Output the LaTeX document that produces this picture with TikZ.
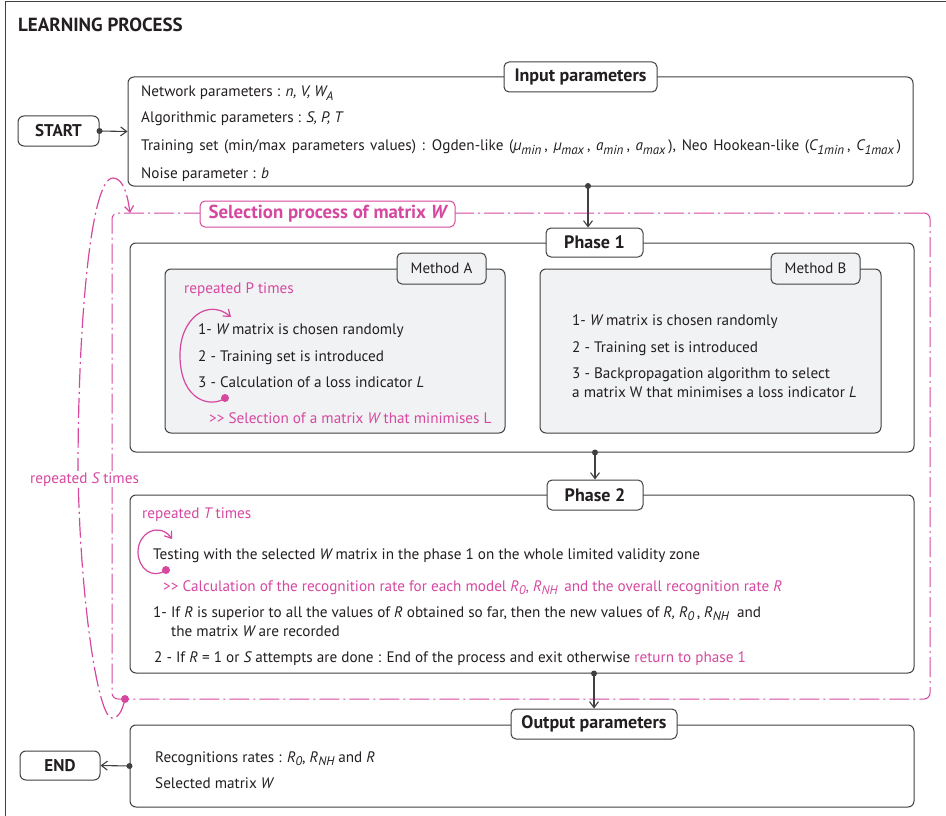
\documentclass[tikz,border=0pt]{standalone}
\usepackage{fontspec}
\setmainfont{PT Sans}
\usetikzlibrary{arrows.meta,calc}
\definecolor{pk}{RGB}{214,72,160}
\definecolor{tx}{RGB}{35,31,32}
\definecolor{ln}{RGB}{64,64,64}
\definecolor{gf}{RGB}{241,242,244}
\newcommand\lo[1]{\raisebox{-0.5ex}{\fontsize{12.5}{12.5}\selectfont\itshape #1}}
\newcommand\los[1]{\raisebox{-0.5ex}{\fontsize{13}{13}\selectfont\itshape #1}\hspace{3pt}}
\newcommand\ii[1]{{\itshape #1}}
\begin{document}
\begin{tikzpicture}[x=1pt,y=-1pt,
  box/.style={draw=ln,line width=1pt,rounded corners=6pt,fill=white,inner sep=0pt},
  gbox/.style={box,fill=gf},
  lab/.style={draw=ln,line width=1pt,rounded corners=5pt,fill=white,inner sep=0pt,text=tx,font=\fontsize{18}{20}\selectfont\bfseries},
  mlab/.style={lab,font=\fontsize{15}{18}\selectfont},
  txt/.style={anchor=base west,inner sep=0pt,text=tx,font=\fontsize{15.2}{18}\selectfont},
  ptxt/.style={txt,text=pk},
  conn/.style={draw=ln,line width=1.1pt,-{Straight Barb[length=6pt,width=9pt]}},
  ploop/.style={draw=pk,line width=1.2pt,-{Straight Barb[length=6pt,width=9pt]}},
  dashdot/.style={dash pattern=on 20pt off 4pt on 2pt off 4pt}
]
\useasboundingbox (0,0) rectangle (946,816);
% frame
\draw[ln,line width=1pt] (5,816) -- (5,1.5) -- (946,1.5);
\node[txt,font=\fontsize{19}{21}\selectfont\bfseries] (title) at (18,32) {LEARNING PROCESS};

% selection process box
\node[draw=pk,line width=1pt,dashdot,rounded corners=6pt,minimum width=818pt,minimum height=486pt,inner sep=0pt] (sel) at (521,456) {};

% input
\node[box,minimum width=81pt,minimum height=30pt,font=\fontsize{17}{20}\selectfont\bfseries,text=tx] (start) at (58.5,131) {START};
\node[box,minimum width=785pt,minimum height=109pt] (inp) at (520.5,131.5) {};
\node[lab,minimum width=153pt,minimum height=30pt] (inplab) at (580.5,77) {Input parameters};
\node[txt] (i1) at (141,96.5) {Network parameters : \ii{n, V, W}\lo{A}};
\node[txt] (i2) at (141,123) {Algorithmic parameters : \ii{S, P, T}};
\node[txt] (i3) at (141,150.5) {\spaceskip=5.6pt plus 1pt Training set (min/max parameters values) : Ogden-like (\ii{µ}\los{min}, \ii{µ}\los{max}, \ii{a}\los{min}, \ii{a}\los{max}), Neo Hookean-like (\ii{C}\los{1min}, \ii{C}\los{1max})};
\node[txt] (i4) at (141,178) {Noise parameter : \ii{b}};

\node[draw=pk,line width=1pt,rounded corners=5pt,fill=white,minimum width=255pt,minimum height=26pt,inner sep=0pt,text=pk,font=\fontsize{18.8}{20}\selectfont\bfseries] (sellab) at (327.5,214) {Selection process of matrix \ii{W}};

% phase 1
\node[box,minimum width=784pt,minimum height=209pt] (ph1) at (522,347.5) {};
\node[lab,minimum width=97pt,minimum height=29pt] (ph1lab) at (594.5,242.5) {Phase 1};
\node[gbox,minimum width=340pt,minimum height=164pt] (ma) at (335,351) {};
\node[mlab,minimum width=89pt,minimum height=31pt,fill=gf] (malab) at (441.5,268.5) {Method A};
\node[gbox,minimum width=341pt,minimum height=164pt] (mb) at (710.5,351) {};
\node[mlab,minimum width=89pt,minimum height=31pt,fill=gf] (mblab) at (815.5,268.5) {Method B};

\node[ptxt] (a0) at (184,293) {repeated P times};
\node[txt] (a1) at (198,334) {1- \ii{W} matrix is chosen randomly};
\node[txt] (a2) at (198,361) {2 - Training set is introduced};
\node[txt] (a3) at (198,387) {3 - Calculation of a loss indicator \ii{L}};
\node[ptxt] (a4) at (209,423) {>{}> Selection of a matrix \ii{W} that minimises L};
\coordinate (adot) at (225,398);
\draw[ploop] (adot) .. controls (212,408) and (180,402) .. (180,355) .. controls (180,318) and (208,298) .. (231,317);
\fill[pk] (adot) circle (4pt);

\node[txt] (b1) at (572,325) {1- \ii{W} matrix is chosen randomly};
\node[txt] (b2) at (572,352) {2 - Training set is introduced};
\node[txt] (b3) at (572,378) {3 - Backpropagation algorithm to select};
\node[txt] (b4) at (572,397) {a matrix W that minimises a loss indicator \ii{L}};

% phase 2
\node[box,minimum width=784pt,minimum height=178pt] (ph2) at (522,584) {};
\node[lab,minimum width=96pt,minimum height=30pt] (ph2lab) at (595,495) {Phase 2};
\node[ptxt] (c0) at (142,518) {repeated \ii{T} times};
\node[txt] (c1) at (153,559) {Testing with the selected \ii{W} matrix in the phase 1 on the whole limited validity zone};
\node[ptxt] (c2) at (163,591) {>{}> Calculation of the recognition rate for each model \ii{R}\lo{0}, \ii{R}\lo{NH}\, and the overall recognition rate \ii{R}};
\node[txt] (c3) at (153,617) {1- If \ii{R} is superior to all the values of \ii{R} obtained so far, then the new values of \ii{R, R}\lo{0}\,, \ii{R}\lo{NH}\ \ and};
\node[txt] (c4) at (171,636) {the matrix \ii{W} are recorded};
\node[txt] (c5) at (154,662) {2 - If \ii{R} = 1 or \ii{S} attempts are done : End of the process and exit otherwise \textcolor{pk}{return to phase 1}};
\coordinate (cdot) at (166,570);
\draw[ploop] (cdot) .. controls (152,580) and (138,568) .. (138,552) .. controls (138,532) and (160,522) .. (172,539);
\fill[pk] (cdot) circle (4pt);

% output
\node[box,minimum width=784pt,minimum height=82pt] (out) at (522,766) {};
\node[lab,minimum width=166pt,minimum height=30pt] (outlab) at (594,724) {Output parameters};
\node[box,minimum width=80pt,minimum height=29pt,font=\fontsize{17}{20}\selectfont\bfseries,text=tx] (end) at (60,765.5) {END};
\node[txt] (o1) at (155,762) {Recognitions rates : \ii{R}\lo{0}, \ii{R}\lo{NH} and \ii{R}};
\node[txt] (o2) at (155,788) {Selected matrix \ii{W}};

% S loop
\coordinate (sdot) at (125,699);
\coordinate (stip) at (130,213);
\draw[ploop,dashdot] (sdot) .. controls (122,712) and (118,718) .. (112,718) .. controls (98,718) and (80,600) .. (78,470) .. controls (78,330) and (90,178) .. (113,178) .. controls (124,178) and (128,198) .. (stip);
\fill[pk] (sdot) circle (4pt);
\node[ptxt,fill=white,inner sep=1pt] (srep) at (29,483) {repeated \ii{S} times};

% connectors
\fill[ln] (start.east) circle (3pt);
\draw[conn] (start.east) -- (inp.west);
\coordinate (d1) at (588,186);
\fill[ln] (d1) circle (3pt);
\draw[conn] (d1) -- (d1 |- ph1lab.north);
\coordinate (d2) at (ph1.south -| ph2lab.north);
\fill[ln] (d2) circle (3pt);
\draw[conn] (d2) -- (ph2lab.north);
\coordinate (d3) at (ph2.south -| outlab.north);
\fill[ln] (d3) circle (3pt);
\draw[conn] (d3) -- (outlab.north);
\fill[ln] (out.west) circle (3pt);
\draw[conn] (out.west) -- (end.east);
\end{tikzpicture}
\end{document}
